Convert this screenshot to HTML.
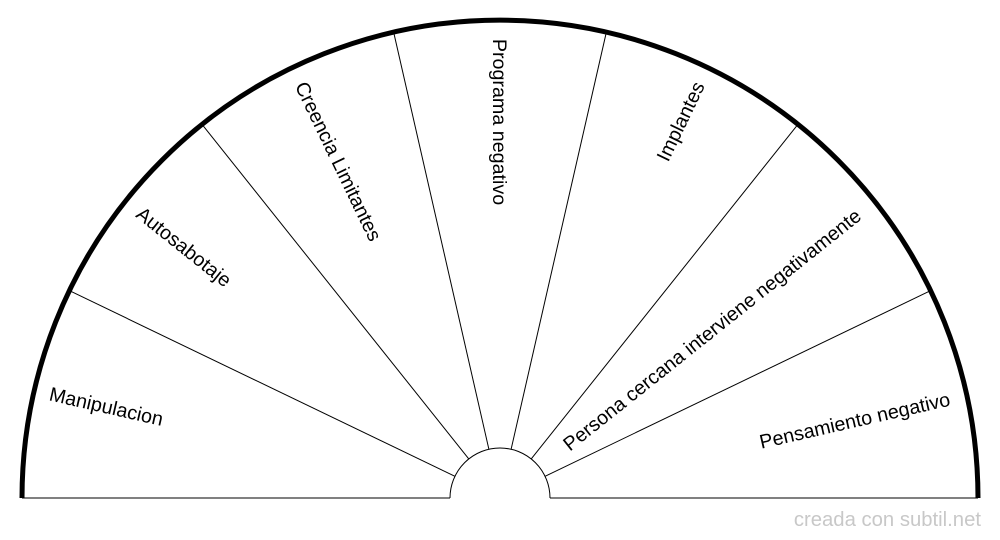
<!DOCTYPE html>
<html><head><meta charset="utf-8"><style>html,body{margin:0;padding:0;background:#fff}svg{display:block}</style></head>
<body>
<svg width="1000" height="540" viewBox="0 0 1000 540" xmlns="http://www.w3.org/2000/svg" font-family="Liberation Sans, sans-serif" font-size="19.7">
<rect width="1000" height="540" fill="#fff"/>
<g stroke="#000" stroke-width="1" fill="none">
<line x1="22" y1="498" x2="450" y2="498"/>
<line x1="550" y1="498" x2="978" y2="498"/>
<path d="M450 498 A50 50 0 0 1 550 498"/>
<line x1="454.95" y1="476.3" x2="69.3" y2="290.6"/>
<line x1="468.8" y1="458.9" x2="201.97" y2="124.3"/>
<line x1="488.9" y1="449.3" x2="393.6" y2="32.0"/>
<line x1="511.1" y1="449.3" x2="606.4" y2="32.0"/>
<line x1="531.2" y1="458.9" x2="798.0" y2="124.3"/>
<line x1="545.05" y1="476.3" x2="930.7" y2="290.6"/>
</g>
<path d="M22 498 A478 478 0 0 1 978 498" stroke="#000" stroke-width="5" fill="none"/>
<g fill="#000" text-anchor="middle" dominant-baseline="middle">
<text transform="translate(106,408) rotate(12.86)">Manipulacion</text>
<text transform="translate(183,248) rotate(38.57)">Autosabotaje</text>
<text transform="translate(337,162) rotate(64.29)">Creencia Limitantes</text>
<text transform="translate(498,122) rotate(90)">Programa negativo</text>
<text transform="translate(682,122) rotate(-64.29)">Implantes</text>
<text transform="translate(713,331) rotate(-38.57)">Persona cercana interviene negativamente</text>
<text transform="translate(855,422) rotate(-12.86)">Pensamiento negativo</text>
</g>
<text x="981" y="526" text-anchor="end" fill="#c8c8c8" font-size="20.3">creada con subtil.net</text>
</svg>
</body></html>
